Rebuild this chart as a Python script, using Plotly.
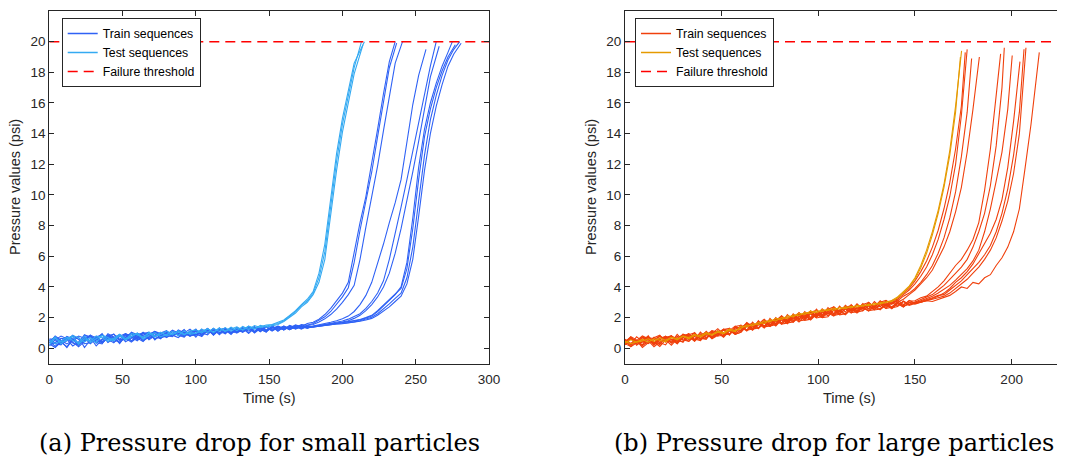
import plotly.graph_objects as go

# ---------------- data: (a) small particles ----------------
small_step = 4  # s, sampling of the recorded sequences
small_train_vals = [
    [0.50,0.12,0.45,0.70,0.52,0.25,0.57,0.80,0.62,0.35,
     0.68,0.60,0.37,0.72,0.98,0.66,0.44,0.82,0.95,0.70,
     0.78,1.10,0.85,0.72,1.14,0.72,1.22,0.99,1.31,0.88,
     1.20,0.90,1.32,1.08,1.43,1.05,1.27,1.04,1.48,1.18,
     1.45,1.30,1.52,1.40,1.62,
     1.70,1.90,2.20,2.60,3.10,3.60,4.30,6.30,8.20,9.90,12.0,14.3,16.6,18.7,20.0],
    [0.20,0.38,0.65,0.58,0.15,0.42,0.82,0.75,0.48,0.40,
     0.95,0.72,0.60,0.55,1.05,0.88,0.50,0.72,1.10,0.95,
     0.82,0.75,1.20,1.02,0.90,1.25,0.78,1.18,0.88,1.30,
     0.95,1.35,1.02,1.28,0.98,1.42,1.10,1.38,1.12,1.45,
     1.25,1.50,1.35,1.55,1.50,
     1.62,1.82,2.05,2.40,2.85,3.35,3.95,5.60,7.70,9.50,11.5,13.8,16.1,18.3,19.9],
    [0.62,0.55,0.25,0.48,0.85,0.60,0.30,0.36,0.72,0.90,
     0.58,0.35,0.78,0.95,0.70,0.48,0.85,1.00,0.78,0.62,
     1.05,0.85,0.92,1.22,0.80,1.18,0.90,1.28,0.85,1.20,
     1.32,0.98,1.25,1.05,1.38,1.00,1.30,1.15,1.42,1.10,
     1.40,1.22,1.48,1.30,1.50,
     1.55,1.72,1.92,2.20,2.55,3.00,3.50,4.10,5.80,7.90,9.80,11.9,14.2,16.5,18.6,20.0],
    [0.35,0.70,0.48,0.05,0.58,0.80,0.66,0.30,0.62,0.92,
     0.40,0.55,0.88,0.62,0.40,0.70,0.95,1.05,0.55,0.90,
     1.12,0.85,0.70,1.00,1.25,0.92,0.78,1.20,1.00,1.32,
     0.95,1.25,1.10,1.35,0.98,1.30,1.12,1.40,1.15,1.36,
     1.20,1.45,1.25,1.42,1.30,
     1.45,1.52,1.60,1.70,1.80,1.92,2.10,2.40,2.85,3.45,4.30,5.50,6.80,8.20,9.50,
     11.0,13.4,15.9,17.8,19.5],
    [0.55,0.30,0.22,0.75,0.40,0.10,0.45,0.85,0.68,0.32,
     0.70,0.92,0.55,0.60,1.00,0.75,0.52,0.90,1.08,0.68,
     0.88,1.18,1.00,0.75,1.10,1.20,1.00,0.88,1.28,1.02,
     1.22,0.98,1.35,1.10,1.25,1.05,1.40,1.18,1.30,1.42,
     1.20,1.38,1.30,1.48,1.32,
     1.40,1.46,1.52,1.60,1.68,1.78,1.90,2.05,2.25,2.60,3.05,3.60,4.40,5.80,7.40,
     9.20,11.0,12.9,14.8,16.6,18.4,20.0],
    [0.15,0.55,0.80,0.62,0.35,0.20,0.75,0.48,0.55,0.95,
     0.38,0.70,0.88,0.42,0.65,0.98,0.80,0.62,1.05,0.85,
     0.72,1.08,0.90,1.15,0.85,0.85,1.05,1.30,0.95,1.18,
     1.02,1.30,1.08,1.22,1.38,1.05,1.28,1.20,1.40,1.15,
     1.35,1.28,1.42,1.25,1.45,
     1.38,1.42,1.50,1.55,1.62,1.70,1.80,1.95,2.15,2.45,2.85,3.35,4.00,4.90,6.20,
     7.80,9.60,11.5,13.5,15.6,17.7,19.7],
    [0.48,0.72,0.40,0.10,0.60,0.35,0.88,0.70,0.15,0.55,
     0.82,0.40,0.58,0.95,0.78,0.60,1.02,0.92,0.62,0.75,
     1.05,0.80,1.12,0.98,0.82,1.15,0.92,1.25,0.90,1.18,
     1.30,0.98,1.22,1.08,1.35,1.12,1.38,1.10,1.32,1.42,
     1.20,1.45,1.28,1.40,1.46,
     1.42,1.48,1.55,1.58,1.62,1.66,1.72,1.78,1.85,1.98,2.10,2.40,2.75,3.10,3.50,
     4.00,5.60,8.50,11.8,14.3,16.0,17.3,18.4,19.3,20.0],
    [0.30,0.05,0.40,0.62,0.82,0.25,0.50,0.78,0.32,0.60,
     0.88,0.62,0.40,0.90,0.48,0.72,1.05,0.65,0.78,1.00,
     1.15,0.82,0.96,1.18,0.80,0.92,1.10,1.25,0.88,1.22,
     1.05,1.32,1.00,1.18,1.38,1.08,1.25,1.42,1.15,1.30,
     1.45,1.22,1.40,1.32,1.38,
     1.40,1.44,1.50,1.56,1.58,1.62,1.66,1.72,1.80,1.90,2.02,2.25,2.55,2.90,3.25,
     3.60,4.60,6.60,9.60,12.6,14.9,16.5,17.8,18.8,19.5,20.0],
    [0.58,0.30,0.45,0.78,0.60,0.20,0.62,0.85,0.38,0.28,
     0.80,0.92,0.52,0.68,0.45,0.88,1.00,0.55,0.82,1.02,
     0.70,0.92,1.15,0.80,1.05,0.86,1.25,1.00,1.15,0.95,
     1.25,1.10,1.00,1.32,1.12,1.35,1.08,1.40,1.20,1.45,
     1.28,1.35,1.48,1.30,1.42,
     1.44,1.50,1.52,1.58,1.64,1.68,1.74,1.80,1.88,2.00,2.15,2.45,2.80,3.20,3.55,
     3.90,5.20,7.80,11.0,13.8,15.6,17.0,18.1,19.0,19.8],
    [0.35,0.80,0.52,0.28,0.50,0.72,0.05,0.55,0.78,0.40,
     0.68,0.75,0.30,0.82,0.95,0.55,0.72,0.90,1.10,0.80,
     0.98,0.82,1.12,0.95,0.80,1.10,0.85,1.12,1.20,1.05,
     0.98,1.30,1.15,1.05,1.28,1.35,1.20,1.10,1.40,1.25,
     1.38,1.22,1.40,1.48,1.35,
     1.40,1.46,1.48,1.54,1.58,1.60,1.64,1.70,1.76,1.84,1.95,2.15,2.40,2.70,3.05,
     3.40,4.20,5.80,8.60,11.6,14.0,15.8,17.2,18.4,19.2,19.9],
]
small_train_end_t = [236, 237, 241, 257, 264, 266, 275, 280, 277, 281]

small_test_vals = [
    [0.20,0.68,0.42,0.50,0.75,0.25,0.62,0.48,0.80,0.70,
     0.45,0.58,0.85,0.55,0.95,0.88,0.70,1.00,0.72,1.05,
     0.80,0.92,1.08,0.88,1.12,1.20,1.00,1.25,1.05,1.30,
     1.12,1.38,1.15,1.42,1.22,1.48,1.35,1.45,1.55,
     1.62,1.80,2.10,2.40,2.80,3.10,3.60,4.60,6.30,9.30,12.2,14.6,16.5,18.3,20.0],
    [0.55,0.30,0.48,0.72,0.50,0.35,0.80,0.38,0.62,0.85,
     0.70,0.48,0.82,0.55,0.75,0.98,0.60,0.85,1.02,0.75,
     0.90,1.10,0.82,1.15,0.90,0.98,1.10,1.28,1.02,1.32,
     1.10,1.25,1.40,1.18,1.42,1.25,1.50,1.38,1.48,
     1.55,1.75,2.00,2.30,2.70,3.00,3.50,4.30,5.80,8.70,11.6,14.1,16.0,17.9,19.8],
    [0.35,0.75,0.28,0.60,0.82,0.68,0.40,0.70,0.35,0.85,
     0.55,0.65,0.92,0.62,0.78,0.98,0.68,1.05,0.80,0.92,
     1.12,0.88,1.15,0.92,1.02,0.98,1.25,1.02,1.30,1.10,
     1.35,1.12,1.32,1.22,1.45,1.30,1.40,1.52,1.55,
     1.68,1.85,2.15,2.45,2.85,3.20,3.70,4.90,6.80,9.80,12.7,15.0,16.9,18.6,20.0],
]
small_test_end_t = [213, 214, 215]

# ---------------- data: (b) large particles ----------------
large_step = 3  # s
large_train_vals = [
    [0.50,0.10,0.35,0.72,0.60,0.30,0.80,0.55,0.20,0.62,
     0.90,0.75,0.45,0.82,1.00,0.62,0.85,1.25,1.15,0.90,
     1.05,1.65,1.22,1.80,1.35,1.95,1.55,2.10,1.70,2.25,
     1.90,2.40,2.00,2.55,2.15,2.65,2.25,2.75,2.35,2.85,
     2.45,2.92,2.58,3.05,2.70,3.10,2.88,
     3.30,3.60,3.90,4.40,5.00,5.70,6.60,7.70,9.10,10.8,13.0,15.8,19.3],
    [0.25,0.65,0.50,0.05,0.35,0.68,0.85,0.40,0.55,0.30,
     0.75,0.95,0.52,0.85,1.05,0.65,0.92,1.20,0.85,1.42,
     1.50,1.18,1.70,1.32,1.82,1.50,2.00,1.65,2.20,1.80,
     2.32,1.95,2.45,2.10,2.58,2.22,2.70,2.35,2.80,2.48,
     2.90,2.55,3.00,2.68,3.10,2.80,3.12,
     3.20,3.50,3.80,4.20,4.70,5.30,6.10,7.10,8.40,9.90,12.0,15.2,19.5],
    [0.60,0.32,0.50,0.15,0.70,0.62,0.25,0.78,0.55,0.38,
     0.92,0.80,0.55,1.05,0.70,0.95,1.28,0.90,1.15,1.45,
     1.25,1.68,1.40,1.58,1.90,1.55,1.80,2.12,1.80,2.05,
     2.30,2.00,2.35,2.48,2.15,2.55,2.70,2.40,2.65,2.80,
     2.55,2.85,2.98,2.65,3.00,3.12,2.88,
     3.10,3.40,3.60,3.90,4.30,4.80,5.40,6.20,7.20,8.50,10.2,12.5,15.4,18.9],
    [0.32,0.72,0.20,0.50,0.75,0.40,0.12,0.55,0.80,0.62,
     0.40,0.88,1.00,0.62,0.65,1.12,0.80,1.22,1.30,0.92,
     1.20,1.58,1.30,1.75,1.45,1.88,1.60,2.02,1.75,2.15,
     1.92,2.25,2.38,2.05,2.50,2.25,2.65,2.42,2.75,2.45,
     2.82,2.60,2.95,2.72,3.00,2.78,3.08,
     3.00,3.20,3.50,3.80,4.20,4.60,5.10,5.80,6.60,7.60,8.90,10.5,12.8,15.6,19.0],
    [0.40,0.75,0.55,0.22,0.82,0.28,0.65,0.78,0.38,0.90,
     0.52,0.65,1.02,0.55,0.85,1.15,1.05,0.78,1.30,0.95,
     1.50,1.15,1.42,1.72,1.40,1.65,1.95,1.60,1.88,2.18,
     1.85,2.10,2.38,2.05,2.28,2.55,2.25,2.48,2.72,2.40,
     2.60,2.85,2.55,2.78,3.02,2.72,2.92,3.15,2.85,3.08,
     3.10,3.30,3.40,3.70,4.00,4.40,4.90,5.40,5.80,6.40,7.10,8.20,10.3,13.0,16.5,19.2],
    [0.30,0.12,0.45,0.62,0.78,0.35,0.25,0.68,0.82,0.45,
     0.75,0.95,0.50,0.80,1.05,0.72,0.98,1.22,0.88,1.35,
     1.35,1.60,1.22,1.52,1.80,1.45,1.75,2.02,1.68,1.95,
     2.22,1.90,2.30,2.00,2.38,2.12,2.50,2.22,2.58,2.30,
     2.70,2.45,2.78,2.52,2.88,2.60,3.02,2.75,3.08,2.85,
     3.00,3.20,3.30,3.50,3.80,4.10,4.50,4.90,5.30,5.80,6.60,7.60,8.80,10.6,13.2,17.0,19.6],
    [0.55,0.20,0.50,0.80,0.62,0.28,0.58,0.72,0.32,0.65,
     0.85,0.55,0.88,0.62,1.10,0.78,1.02,1.25,0.92,1.18,
     1.10,1.50,1.62,1.28,1.70,1.82,1.50,1.88,2.05,1.75,
     2.10,2.28,1.92,2.35,2.10,2.45,2.58,2.25,2.55,2.68,
     2.42,2.75,2.85,2.55,2.82,2.98,2.70,3.00,2.78,3.12,
     2.95,3.10,3.20,3.40,3.60,3.85,4.10,4.45,4.80,5.20,5.70,6.40,7.60,9.10,10.9,12.8,15.6,19.1],
    [0.22,0.65,0.38,0.72,0.50,0.10,0.40,0.65,0.80,0.30,
     0.70,0.82,0.48,0.95,0.65,1.00,1.12,0.75,1.22,0.92,
     1.05,1.45,1.18,1.60,1.32,1.72,1.45,1.85,1.60,2.00,
     1.72,2.12,1.85,2.22,2.00,2.30,2.10,2.42,2.18,2.55,
     2.30,2.65,2.42,2.72,2.50,2.85,2.58,2.92,2.68,3.00,
     2.88,3.00,3.10,3.25,3.40,3.60,3.90,4.30,4.60,5.00,5.50,6.20,6.80,7.50,8.40,9.70,
     11.8,14.8,18.7],
    [0.52,0.25,0.75,0.45,0.30,0.58,0.80,0.50,0.38,0.78,
     0.55,0.45,0.92,0.65,0.58,1.08,0.80,0.85,1.28,0.98,
     1.50,1.18,1.25,1.65,1.40,1.45,1.90,1.58,1.65,2.08,
     1.78,1.85,2.25,1.98,2.05,2.42,2.15,2.22,2.58,2.32,
     2.38,2.72,2.45,2.52,2.88,2.60,2.68,3.02,2.76,2.85,
     3.00,3.05,3.15,3.30,3.45,3.50,3.80,4.10,4.40,4.80,5.20,5.60,6.10,6.70,7.60,8.80,
     10.4,12.6,15.4,19.5],
    [0.30,0.68,0.45,0.18,0.42,0.72,0.38,0.22,0.75,0.52,
     0.40,0.90,0.60,0.50,1.00,0.70,1.15,0.88,0.92,1.35,
     1.15,1.55,1.25,1.32,1.75,1.45,1.55,1.95,1.65,1.72,
     2.12,1.82,1.90,2.28,2.00,2.06,2.48,2.18,2.25,2.62,
     2.35,2.45,2.78,2.50,2.56,2.92,2.64,2.72,3.05,2.80,
     2.92,3.00,3.10,3.20,3.30,3.40,3.60,3.90,4.20,4.50,4.90,5.30,5.80,6.40,7.20,8.30,
     9.60,11.4,14.0,19.6],
    [0.45,0.70,0.28,0.40,0.62,0.20,0.55,0.78,0.60,0.40,
     0.70,0.45,0.78,0.50,0.92,0.65,1.00,0.72,1.12,1.25,
     1.38,1.12,1.55,1.30,1.65,1.42,1.80,1.58,1.95,1.70,
     2.05,2.18,1.90,2.28,2.05,2.38,2.18,2.50,2.22,2.58,
     2.38,2.65,2.45,2.78,2.55,2.82,2.62,2.92,2.70,2.98,
     2.95,3.00,3.10,3.05,3.20,3.30,3.45,3.70,4.00,3.90,4.30,4.20,4.60,4.80,5.40,5.90,
     6.60,7.60,9.10,11.8,14.6,19.3],
]
large_train_end_t = [176, 177, 179.3, 183.3, 194.3, 196.2, 200.3, 204.3, 206.4, 207.4, 214.3]

large_test_vals = [
    [0.45,0.30,0.42,0.58,0.40,0.62,0.52,0.42,0.70,0.55,
     0.78,0.62,0.85,0.72,0.95,0.85,1.05,0.95,1.18,1.08,
     1.45,1.38,1.60,1.55,1.78,1.72,1.95,1.88,2.12,2.05,
     2.28,2.20,2.42,2.32,2.52,2.45,2.62,2.55,2.70,2.64,
     2.80,2.74,2.88,2.82,2.98,3.02,3.12,
     3.35,3.70,4.05,4.60,5.40,6.40,7.60,9.00,10.7,12.9,15.8,19.4],
    [0.35,0.55,0.40,0.48,0.62,0.45,0.68,0.52,0.72,0.62,
     0.80,0.70,0.90,0.82,1.02,0.90,1.12,1.02,1.25,1.15,
     1.30,1.52,1.45,1.68,1.62,1.85,1.78,2.00,1.95,2.18,
     2.12,2.32,2.25,2.45,2.38,2.56,2.48,2.66,2.58,2.74,
     2.68,2.82,2.78,2.92,2.88,3.00,3.06,
     3.30,3.60,4.00,4.50,5.25,6.20,7.40,8.80,10.5,12.6,15.4,19.0],
]
large_test_end_t = [174.1, 173.5]

threshold = 20
small_xlim = [0, 300]
large_xlim = [0, 230]
y_ticks = [0, 2, 4, 6, 8, 10, 12, 14, 16, 18, 20, 22]
small_x_ticks = [0, 50, 100, 150, 200, 250, 300]
large_x_ticks = [0, 50, 100, 150, 200]

labels = ["Train sequences", "Test sequences", "Failure threshold"]
x_title = "Time (s)"
y_title = "Pressure values (psi)"
captions = ["(a) Pressure drop for small particles", "(b) Pressure drop for large particles"]

# ---------------- styles ----------------
C_SMALL_TRAIN = "#2f62f5"
C_SMALL_TEST = "#34aaf2"
C_LARGE_TRAIN = "#f0400c"
C_LARGE_TEST = "#e59a00"
C_THRESH = "#ff0000"
AX = "#262626"
FONT = "Liberation Sans, Arial, sans-serif"

PAGE_OFF = 8            # default body margin of the page holding the figure
W, H = 1065 - PAGE_OFF, 460 - PAGE_OFF


def px(xp):  # page pixel -> paper x
    return (xp - PAGE_OFF) / W


def py(yp):  # page pixel -> paper y
    return 1 - (yp - PAGE_OFF) / H


def times(vals, step, end_t):
    return [k * step for k in range(len(vals) - 1)] + [end_t]


fig = go.Figure()


def add_panel(train_vals, train_end, test_vals, test_end, step, xlim,
              c_train, c_test, xa, ya, leg):
    for v, e in zip(train_vals, train_end):
        fig.add_trace(go.Scatter(
            x=times(v, step, e), y=v, mode="lines",
            line=dict(color=c_train, width=1.1), showlegend=False,
            xaxis=xa, yaxis=ya, hoverinfo="skip"))
    for v, e in zip(test_vals, test_end):
        fig.add_trace(go.Scatter(
            x=times(v, step, e), y=v, mode="lines",
            line=dict(color=c_test, width=1.1), showlegend=False,
            xaxis=xa, yaxis=ya, hoverinfo="skip"))
    fig.add_trace(go.Scatter(
        x=xlim, y=[threshold, threshold], mode="lines",
        line=dict(color=C_THRESH, width=1.5, dash="10px,6px"),
        showlegend=False, xaxis=xa, yaxis=ya, hoverinfo="skip"))
    # legend entries (one per series kind)
    for name, col, dash in ((labels[0], c_train, "solid"), (labels[1], c_test, "solid"),
                            (labels[2], C_THRESH, "10px,6px")):
        fig.add_trace(go.Scatter(
            x=[None], y=[None], mode="lines", name=name, legend=leg,
            line=dict(color=col, width=1.5, dash=dash),
            xaxis=xa, yaxis=ya, hoverinfo="skip"))


add_panel(small_train_vals, small_train_end_t, small_test_vals, small_test_end_t,
          small_step, small_xlim, C_SMALL_TRAIN, C_SMALL_TEST, "x", "y", "legend")
add_panel(large_train_vals, large_train_end_t, large_test_vals, large_test_end_t,
          large_step, large_xlim, C_LARGE_TRAIN, C_LARGE_TEST, "x2", "y2", "legend2")

common_axis = dict(showgrid=False, zeroline=False, showline=True, linecolor=AX,
                   linewidth=1, ticks="inside", ticklen=5, tickcolor=AX,
                   automargin=False,
                   tickfont=dict(family=FONT, size=13.5, color=AX))

y_dom = [py(363.6), py(11.0)]
legend_style = dict(bgcolor="white", bordercolor=AX, borderwidth=1,
                    font=dict(family=FONT, size=12.3, color="#000000"),
                    xanchor="left", yanchor="top", tracegroupgap=0,
                    itemwidth=30)

fig.update_layout(
    width=W, height=H, autosize=False,
    margin=dict(l=0, r=0, t=0, b=0, autoexpand=False),
    paper_bgcolor="white", plot_bgcolor="white",
    xaxis=dict(common_axis, domain=[px(49.3), px(489.0)], range=small_xlim,
               tickvals=small_x_ticks, mirror="ticks", anchor="y",
               ticklabelstandoff=3),
    yaxis=dict(common_axis, domain=y_dom, range=[-1, 22], tickvals=y_ticks,
               mirror="ticks", anchor="x"),
    xaxis2=dict(common_axis, domain=[px(625.0), 1.0], range=[0, 227.6],
                tickvals=large_x_ticks, mirror="ticks", anchor="y2",
                ticklabelstandoff=3),
    yaxis2=dict(common_axis, domain=y_dom, range=[-1, 22], tickvals=y_ticks,
                mirror=False, anchor="x2"),
    legend=dict(legend_style, x=px(61.7), y=py(18.0)),
    legend2=dict(legend_style, x=px(635.0), y=py(18.0)),
    showlegend=True,
)

title_font = dict(family=FONT, size=14.5, color=AX)
for xc in (269, 849):
    fig.add_annotation(text=x_title, x=px(xc), y=py(398), xref="paper", yref="paper",
                       showarrow=False, xanchor="center", yanchor="middle", font=title_font)
for xc in (15, 591):
    fig.add_annotation(text=y_title, x=px(xc), y=py(187), xref="paper", yref="paper",
                       showarrow=False, xanchor="center", yanchor="middle", textangle=-90,
                       font=title_font)

cap_font = dict(family="DejaVu Serif", size=24, color="#000000")
fig.add_annotation(text=captions[0], x=px(259.5), y=py(443), xref="paper", yref="paper",
                   showarrow=False, xanchor="center", yanchor="middle", font=cap_font)
fig.add_annotation(text=captions[1], x=px(834), y=py(443), xref="paper", yref="paper",
                   showarrow=False, xanchor="center", yanchor="middle", font=cap_font)

fig.write_html("out.html")
